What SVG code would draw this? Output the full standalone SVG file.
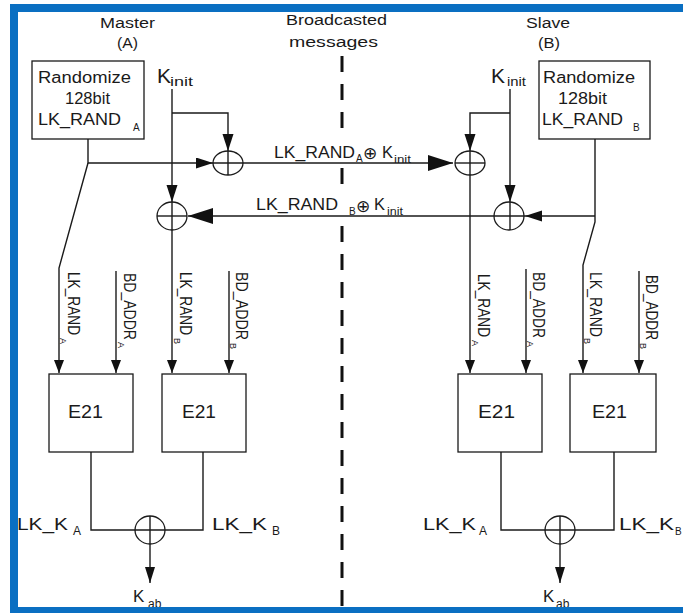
<svg xmlns="http://www.w3.org/2000/svg" width="683" height="613" viewBox="0 0 683 613">
<style>
text{font-family:"Liberation Sans",Arial,sans-serif;fill:#1a1a1a}
.t15{font-size:15.5px}
.t16{font-size:16px}
.t17{font-size:17px}
.t18{font-size:18px}
.k{font-size:21px}
.sub{font-size:10px}
.sub12{font-size:12px}
.ini{font-size:13px}
.rot{font-size:16px}
.rsub{font-size:9px}
.sym{font-family:"DejaVu Sans",sans-serif;font-size:17px}
.ln{fill:none;stroke:#1a1a1a;stroke-width:1.4}
.box{fill:#fff;stroke:#1a1a1a;stroke-width:1.3}
.xor{fill:none;stroke:#1a1a1a;stroke-width:1.3}
.dash{fill:none;stroke:#111;stroke-width:3;stroke-dasharray:16 12}
</style>
<defs>
<marker id="big" markerUnits="userSpaceOnUse" markerWidth="26" markerHeight="17" refX="25" refY="8" orient="auto"><path d="M0,0 L25,8 L0,16 z" fill="#111"/></marker>
<marker id="mid" markerUnits="userSpaceOnUse" markerWidth="18" markerHeight="12" refX="17" refY="5.5" orient="auto"><path d="M0,0 L17,5.5 L0,11 z" fill="#111"/></marker>
<marker id="sm" markerUnits="userSpaceOnUse" markerWidth="14" markerHeight="11" refX="13" refY="5" orient="auto"><path d="M0,0 L13,5 L0,10 z" fill="#111"/></marker>
<marker id="ka" markerUnits="userSpaceOnUse" markerWidth="17" markerHeight="11" refX="16" refY="5" orient="auto"><path d="M0,0 L16,5 L0,10 z" fill="#111"/></marker>
</defs>
<rect width="683" height="613" fill="#fff"/>

<!-- headers -->
<g id="master">
<text class="t15" x="100" y="28" textLength="55" lengthAdjust="spacingAndGlyphs">Master</text>
<text class="t15" x="117" y="48" textLength="21" lengthAdjust="spacingAndGlyphs">(A)</text>
</g>
<g id="broadcast">
<text class="t15" x="286" y="25" textLength="101" lengthAdjust="spacingAndGlyphs">Broadcasted</text>
<text class="t15" x="289" y="47" textLength="89" lengthAdjust="spacingAndGlyphs">messages</text>
</g>
<g id="slave">
<text class="t15" x="526" y="28" textLength="44" lengthAdjust="spacingAndGlyphs">Slave</text>
<text class="t15" x="538" y="48" textLength="22" lengthAdjust="spacingAndGlyphs">(B)</text>
</g>

<!-- connectors -->
<g id="connectors">
<path class="dash" d="M342,56 V136 M342,168 V190 M342,226 V607"/>
<!-- master side -->
<path class="ln" d="M88,139 V163 H213" marker-end="url(#mid)"/>
<path class="ln" d="M213,163 H453" marker-end="url(#big)"/>
<path class="ln" d="M88,163 L59,268 V373" marker-end="url(#sm)"/>
<path class="ln" d="M172,89 V202" marker-end="url(#mid)"/>
<path class="ln" d="M172,202 V373" marker-end="url(#sm)"/>
<path class="ln" d="M172,113 H228 V151" marker-end="url(#mid)"/>
<path class="ln" d="M228,151 V175"/>
<path class="ln" d="M157,216 H187"/>
<path class="ln" d="M116,271 V373" marker-end="url(#sm)"/>
<path class="ln" d="M229,271 V373" marker-end="url(#sm)"/>
<!-- slave side -->
<path class="ln" d="M595,139 V222 L583,265 V373" marker-end="url(#sm)"/>
<path class="ln" d="M595,216 H525" marker-end="url(#mid)"/>
<path class="ln" d="M525,216 H188" marker-end="url(#big)"/>
<path class="ln" d="M510,89 V202" marker-end="url(#mid)"/>
<path class="ln" d="M510,202 V230"/>
<path class="ln" d="M510,113 H470 V151" marker-end="url(#mid)"/>
<path class="ln" d="M470,151 V373" marker-end="url(#sm)"/>
<path class="ln" d="M455,163 H485"/>
<path class="ln" d="M526,269 V373" marker-end="url(#sm)"/>
<path class="ln" d="M639,271 V373" marker-end="url(#sm)"/>
<!-- outputs -->
<path class="ln" d="M91,452 V530 H203 V452"/>
<path class="ln" d="M150,516 V583" marker-end="url(#ka)"/>
<path class="ln" d="M501,452 V530 H614 V452"/>
<path class="ln" d="M560,516 V583" marker-end="url(#ka)"/>
</g>

<!-- XOR nodes -->
<g id="xor-a1"><ellipse class="xor" cx="228" cy="163" rx="15" ry="12"/></g>
<g id="xor-a2"><ellipse class="xor" cx="172" cy="216" rx="15" ry="14"/></g>
<g id="xor-b1"><ellipse class="xor" cx="470" cy="163" rx="15" ry="12"/></g>
<g id="xor-b2"><ellipse class="xor" cx="509" cy="216" rx="15" ry="14"/></g>
<g id="xor-a3"><ellipse class="xor" cx="150" cy="530" rx="15" ry="14"/></g>
<g id="xor-b3"><ellipse class="xor" cx="560" cy="530" rx="15" ry="14"/></g>

<!-- randomize boxes -->
<g id="rand-a">
<rect class="box" x="32" y="61" width="112" height="78"/>
<text class="t16" x="38" y="83" textLength="93" lengthAdjust="spacingAndGlyphs">Randomize</text>
<text class="t16" x="65" y="104" textLength="45" lengthAdjust="spacingAndGlyphs">128bit</text>
<text class="t16" x="38" y="125" textLength="83" lengthAdjust="spacingAndGlyphs">LK_RAND</text>
<text class="sub" x="133" y="131">A</text>
</g>
<g id="rand-b">
<rect class="box" x="539" y="61" width="111" height="78"/>
<text class="t16" x="543" y="83" textLength="92" lengthAdjust="spacingAndGlyphs">Randomize</text>
<text class="t16" x="558" y="104" textLength="49" lengthAdjust="spacingAndGlyphs">128bit</text>
<text class="t16" x="542" y="125" textLength="81" lengthAdjust="spacingAndGlyphs">LK_RAND</text>
<text class="sub" x="633" y="131">B</text>
</g>

<!-- K_init labels -->
<g id="kinit-a">
<text class="k" x="157" y="83">K</text>
<text class="ini" x="170" y="86" textLength="23" lengthAdjust="spacingAndGlyphs">init</text>
</g>
<g id="kinit-b">
<text class="k" x="491" y="83">K</text>
<text class="ini" x="507" y="86" textLength="19" lengthAdjust="spacingAndGlyphs">init</text>
</g>

<!-- broadcast message labels -->
<g id="msg-a">
<text class="t17" x="274" y="158" textLength="81" lengthAdjust="spacingAndGlyphs">LK_RAND</text>
<text class="sub" x="356" y="162">A</text>
<text class="sym" x="363" y="159">⊕</text>
<text class="t17" x="382" y="158" textLength="11" lengthAdjust="spacingAndGlyphs">K</text>
<text class="sub" x="394" y="163" textLength="17" lengthAdjust="spacingAndGlyphs">init</text>
</g>
<g id="msg-b">
<text class="t17" x="256" y="210" textLength="82" lengthAdjust="spacingAndGlyphs">LK_RAND</text>
<text class="sub" x="349" y="215">B</text>
<text class="sym" x="356" y="212">⊕</text>
<text class="t17" x="374" y="210" textLength="11" lengthAdjust="spacingAndGlyphs">K</text>
<text class="sub" x="387" y="215" textLength="16" lengthAdjust="spacingAndGlyphs">init</text>
</g>

<!-- rotated input labels -->
<g id="in-labels">
<text class="rot" transform="translate(68,272) rotate(90)" textLength="63" lengthAdjust="spacingAndGlyphs">LK_RAND</text>
<text class="rsub" transform="translate(60,338) rotate(90)">A</text>
<text class="rot" transform="translate(124,273) rotate(90)" textLength="67" lengthAdjust="spacingAndGlyphs">BD_ADDR</text>
<text class="rsub" transform="translate(118,342) rotate(90)">A</text>
<text class="rot" transform="translate(180,272) rotate(90)" textLength="63" lengthAdjust="spacingAndGlyphs">LK_RAND</text>
<text class="rsub" transform="translate(174,338) rotate(90)">B</text>
<text class="rot" transform="translate(236,272) rotate(90)" textLength="68" lengthAdjust="spacingAndGlyphs">BD_ADDR</text>
<text class="rsub" transform="translate(230,343) rotate(90)">B</text>
<text class="rot" transform="translate(478,274) rotate(90)" textLength="63" lengthAdjust="spacingAndGlyphs">LK_RAND</text>
<text class="rsub" transform="translate(472,340) rotate(90)">A</text>
<text class="rot" transform="translate(533,272) rotate(90)" textLength="66" lengthAdjust="spacingAndGlyphs">BD_ADDR</text>
<text class="rsub" transform="translate(527,341) rotate(90)">A</text>
<text class="rot" transform="translate(590,272) rotate(90)" textLength="65" lengthAdjust="spacingAndGlyphs">LK_RAND</text>
<text class="rsub" transform="translate(584,338) rotate(90)">B</text>
<text class="rot" transform="translate(646,275) rotate(90)" textLength="65" lengthAdjust="spacingAndGlyphs">BD_ADDR</text>
<text class="rsub" transform="translate(640,343) rotate(90)">B</text>
</g>

<!-- E21 boxes -->
<g id="e21-1"><rect class="box" x="49" y="374" width="84" height="78"/><text class="t18" x="68" y="418" textLength="35" lengthAdjust="spacingAndGlyphs">E21</text></g>
<g id="e21-2"><rect class="box" x="162" y="374" width="84" height="78"/><text class="t18" x="182" y="418" textLength="34" lengthAdjust="spacingAndGlyphs">E21</text></g>
<g id="e21-3"><rect class="box" x="458" y="374" width="84" height="78"/><text class="t18" x="478" y="418" textLength="37" lengthAdjust="spacingAndGlyphs">E21</text></g>
<g id="e21-4"><rect class="box" x="570" y="374" width="86" height="78"/><text class="t18" x="592" y="418" textLength="35" lengthAdjust="spacingAndGlyphs">E21</text></g>

<!-- output labels -->
<g id="out-labels">
<text class="t17" x="17" y="530" textLength="51" lengthAdjust="spacingAndGlyphs">LK_K</text>
<text class="sub12" x="73" y="535">A</text>
<text class="t17" x="212" y="530" textLength="55" lengthAdjust="spacingAndGlyphs">LK_K</text>
<text class="sub12" x="272" y="535">B</text>
<text class="t17" x="423" y="530" textLength="53" lengthAdjust="spacingAndGlyphs">LK_K</text>
<text class="sub12" x="479" y="535">A</text>
<text class="t17" x="619" y="530" textLength="55" lengthAdjust="spacingAndGlyphs">LK_K</text>
<text class="sub" x="675" y="535">B</text>
<text class="t17" x="133" y="602">K</text>
<text class="sub12" x="148" y="608">ab</text>
<text class="t17" x="543" y="602">K</text>
<text class="sub12" x="556" y="608">ab</text>
</g>

<!-- frame -->
<rect x="14" y="8" width="720" height="603" fill="none" stroke="#0a6fc2" stroke-width="8"/>
</svg>
